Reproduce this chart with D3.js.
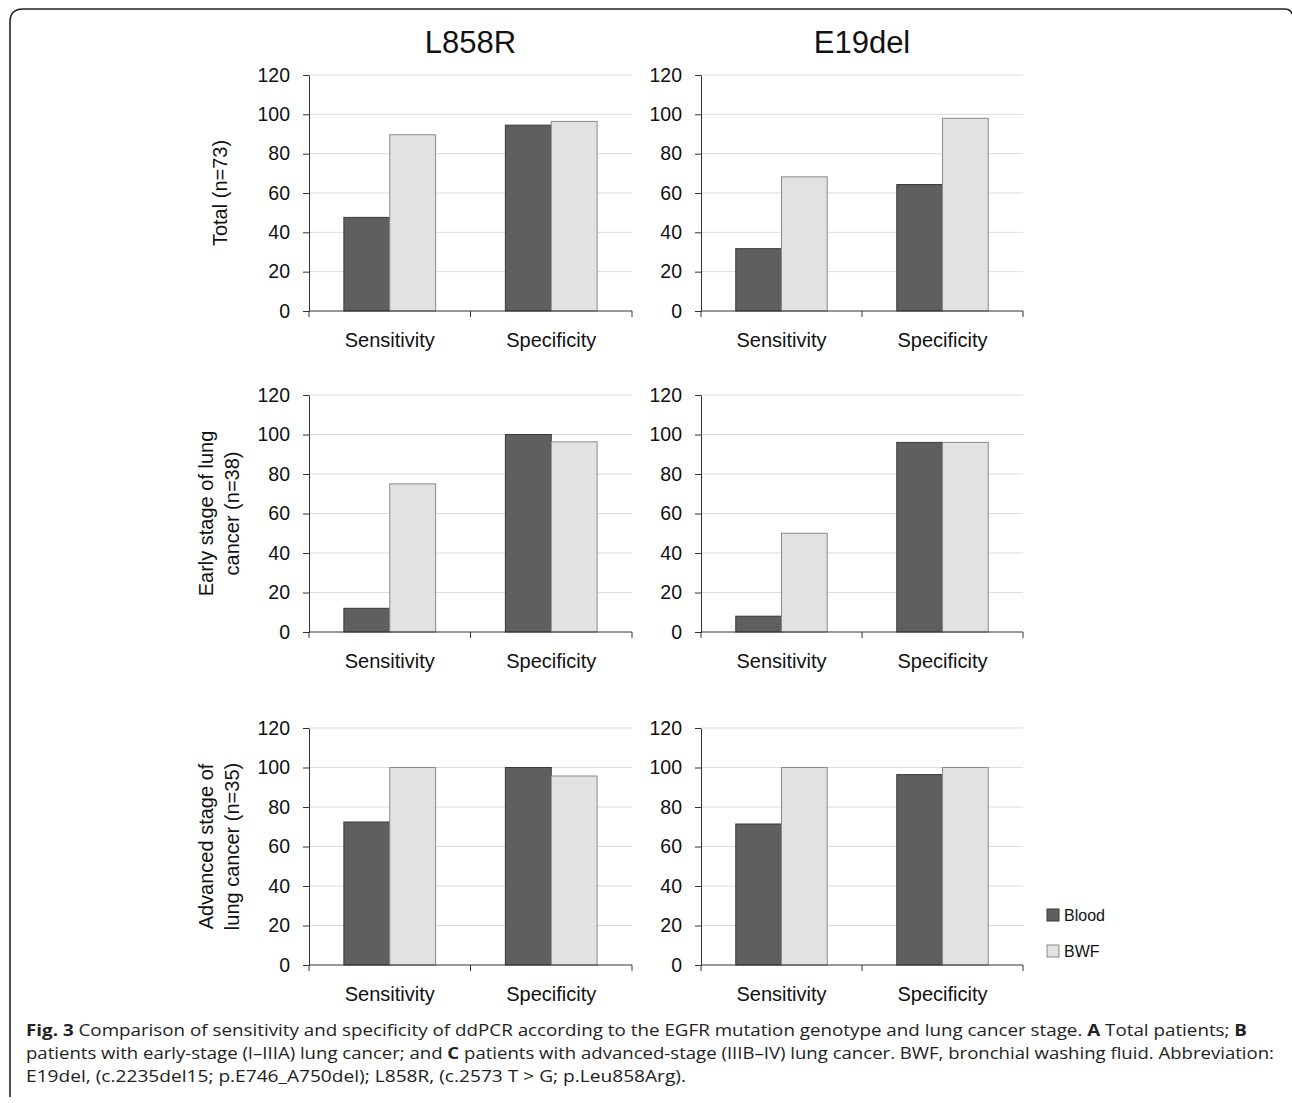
<!DOCTYPE html>
<html><head><meta charset="utf-8">
<script src="https://cdn.jsdelivr.net/npm/d3@7"></script>
<style>body{margin:0;background:#fff}svg{display:block}</style>
</head><body>
<svg id="c" width="1292" height="1103"></svg>
<script>
const categories = ["Sensitivity", "Specificity"];
const series = ["Blood", "BWF"];
const mutations = ["L858R", "E19del"];
const rowLabels = [["Total (n=73)"], ["Early stage of lung", "cancer (n=38)"], ["Advanced stage of", "lung cancer (n=35)"]];
const yTicks = [0, 20, 40, 60, 80, 100, 120];

const totalL858RBlood = [47.6, 94.5];
const totalL858RBWF = [89.6, 96.4];
const totalE19delBlood = [31.7, 64.3];
const totalE19delBWF = [68.2, 98.0];
const earlyL858RBlood = [12.0, 100];
const earlyL858RBWF = [75.0, 96.3];
const earlyE19delBlood = [8.0, 96.0];
const earlyE19delBWF = [50.0, 96.0];
const advL858RBlood = [72.4, 100];
const advL858RBWF = [100, 95.7];
const advE19delBlood = [71.4, 96.4];
const advE19delBWF = [100, 100];

const captionLines = [
  [["b","Fig. 3"],["n"," Comparison of sensitivity and specificity of ddPCR according to the EGFR mutation genotype and lung cancer stage. "],["b","A"],["n"," Total patients; "],["b","B"]],
  [["n","patients with early-stage (I\u2013IIIA) lung cancer; and "],["b","C"],["n"," patients with advanced-stage (IIIB\u2013IV) lung cancer. BWF, bronchial washing fluid. Abbreviation:"]],
  [["n","E19del, (c.2235del15; p.E746_A750del); L858R, (c.2573 T > G; p.Leu858Arg)."]]
];
const captionWidths = [1221, 1248, 660];

const panelData = [
  [[totalL858RBlood, totalL858RBWF], [totalE19delBlood, totalE19delBWF]],
  [[earlyL858RBlood, earlyL858RBWF], [earlyE19delBlood, earlyE19delBWF]],
  [[advL858RBlood, advL858RBWF], [advE19delBlood, advE19delBWF]]
];

const colX = [[309, 632], [701, 1023]];
const rowY = [[75, 311], [395, 632], [728, 965]];
const fills = {Blood: "#5f5f5f", BWF: "#e2e2e2"};
const strokes = {Blood: "#3a3a3a", BWF: "#8a8a8a"};
const font = "'Liberation Sans', Arial, sans-serif";

const svg = d3.select("#c");

// frame
svg.append("path")
  .attr("d", "M10,1097 L10,22 Q10,9 23,9 L1284,9 Q1291,9 1292,14")
  .attr("fill", "none").attr("stroke", "#222").attr("stroke-width", 1.6);

// column titles
mutations.forEach((m, ci) => {
  svg.append("text").attr("x", (colX[ci][0] + colX[ci][1]) / 2).attr("y", 53)
    .attr("text-anchor", "middle").style("font-family", font).attr("font-size", 31)
    .attr("fill", "#111").text(m);
});

panelData.forEach((row, ri) => {
  row.forEach((vals, ci) => {
    const [x0, x1] = colX[ci];
    const [yTop, yBot] = rowY[ri];
    const g = svg.append("g");
    const y = d3.scaleLinear().domain([0, 120]).range([yBot, yTop]);
    const x = d3.scaleBand().domain(categories).range([x0, x1]).padding(0);
    const xs = d3.scaleBand().domain(series).range([0, x.bandwidth()]).paddingInner(0).paddingOuter(0.76);

    // gridlines
    g.selectAll("line.grid").data(yTicks.filter(t => t > 0)).join("line")
      .attr("x1", x0).attr("x2", x1).attr("y1", d => y(d)).attr("y2", d => y(d))
      .attr("stroke", "#dcdcdc").attr("stroke-width", 1);

    // bars
    series.forEach((s, si) => {
      const v = vals[si];
      g.selectAll("rect.s" + si).data(categories).join("rect")
        .attr("x", c => x(c) + xs(s))
        .attr("y", (c, i) => y(v[i]))
        .attr("width", xs.bandwidth())
        .attr("height", (c, i) => y(0) - y(v[i]))
        .attr("fill", fills[s]).attr("stroke", strokes[s]).attr("stroke-width", 1);
    });

    // y axis
    const ya = g.append("g").attr("transform", `translate(${x0},0)`)
      .call(d3.axisLeft(y).tickValues(yTicks).tickSize(6).tickSizeOuter(0).tickPadding(13));
    ya.attr("font-family", null);
    ya.select(".domain").attr("stroke", "#333");
    ya.selectAll(".tick line").attr("stroke", "#333");
    ya.selectAll(".tick text").style("font-family", font).attr("font-size", 19.5).attr("fill", "#111");

    // x axis line & ticks at band boundaries
    g.append("line").attr("x1", x0).attr("x2", x1).attr("y1", y(0)).attr("y2", y(0)).attr("stroke", "#333");
    const bounds = categories.map(c => x(c)).concat([x(categories[categories.length - 1]) + x.bandwidth()]);
    g.selectAll("line.xt").data(bounds).join("line")
      .attr("x1", d => d).attr("x2", d => d).attr("y1", y(0)).attr("y2", y(0) + 6)
      .attr("stroke", "#333");
    g.selectAll("text.xl").data(categories).join("text")
      .attr("x", c => x(c) + x.bandwidth() / 2).attr("y", y(0) + 36)
      .attr("text-anchor", "middle").style("font-family", font).attr("font-size", 20)
      .attr("fill", "#111").text(c => c);

    // row label
    if (ci === 0) {
      const lines = rowLabels[ri];
      const cy = (yTop + yBot) / 2;
      const baseX = lines.length === 1 ? 227 : 213;
      lines.forEach((t, li) => {
        svg.append("text")
          .attr("transform", `translate(${baseX + li * 26},${cy}) rotate(-90)`)
          .attr("text-anchor", "middle").style("font-family", font).attr("font-size", 20)
          .attr("fill", "#111").text(t);
      });
    }
  });
});

// legend
series.forEach((s, i) => {
  const ly = 909 + i * 36;
  svg.append("rect").attr("x", 1047).attr("y", ly).attr("width", 12).attr("height", 12)
    .attr("fill", fills[s]).attr("stroke", strokes[s]);
  svg.append("text").attr("x", 1064).attr("y", ly + 6).attr("dominant-baseline", "central")
    .style("font-family", font).attr("font-size", 16).attr("fill", "#111").text(s);
});

// caption
captionLines.forEach((line, li) => {
  const t = svg.append("text").style("font-family", "'Open Sans', sans-serif")
    .attr("font-size", 16.5).attr("fill", "#222")
    .attr("x", 26).attr("y", 1036 + li * 23)
    .attr("textLength", captionWidths[li]).attr("lengthAdjust", "spacingAndGlyphs");
  line.forEach(([w, s]) => {
    t.append("tspan").attr("font-weight", w === "b" ? 700 : 400).text(s);
  });
});
</script>
</body></html>
